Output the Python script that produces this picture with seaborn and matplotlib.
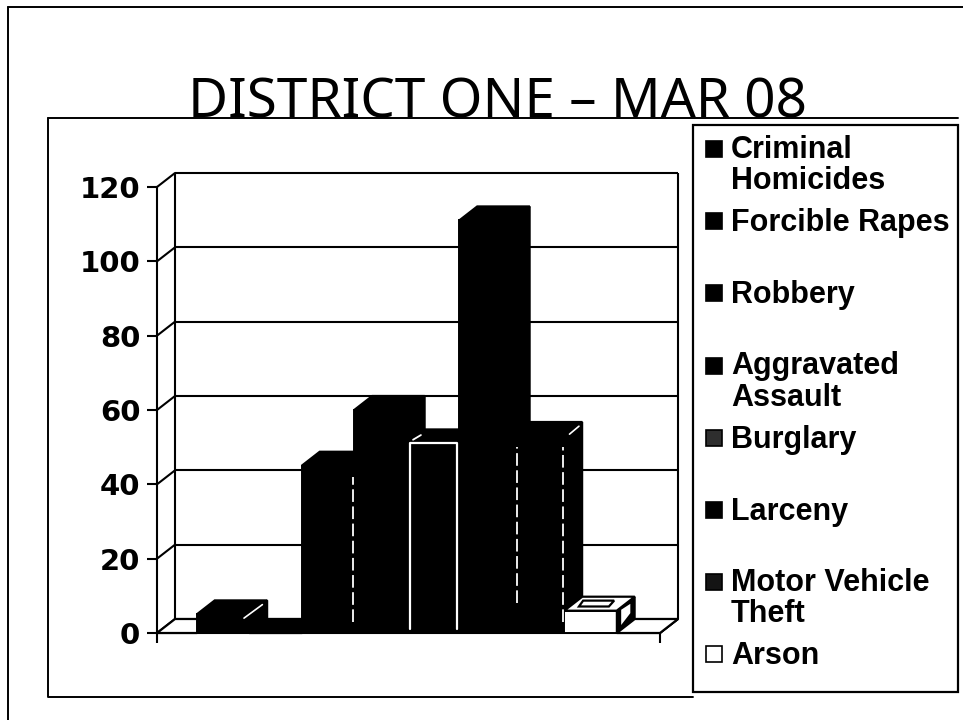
import matplotlib
matplotlib.use("Agg")
import matplotlib.pyplot as plt
from matplotlib.lines import Line2D
from matplotlib.patches import Polygon, Rectangle
import pandas as pd
import seaborn as sns

W, H = 963, 720

# bars as they stand in the picture, left to right
bar_ids = ["1", "2", "3", "4", "5", "6", "7", "8", "9", "10"]
bar_values = [0, 5, 0, 45, 60, 51, 111, 53, 6, 0]
bar_faces = ["white", "black", "black", "black", "black", "black", "black", "black", "white", "white"]

y_ticks = [0, 20, 40, 60, 80, 100, 120]

legend_labels = ["Criminal\nHomicides", "Forcible Rapes", "Robbery", "Aggravated\nAssault",
                 "Burglary", "Larceny", "Motor Vehicle\nTheft", "Arson"]
legend_colors = ["#000000", "#000000", "#000000", "#000000", "#2e2e2e", "#000000", "#141414", "#ffffff"]

# depth of the fake 3d box, in pixels
DEPTH_X, DEPTH_Y = 18, 14


def fx(x):
    return x / W


def fy(y):
    return 1 - y / H


def frame_line(fig, xs, ys, lw=1.4):
    fig.add_artist(Line2D([fx(x) for x in xs], [fy(y) for y in ys], color="black", lw=lw))


def main():
    sns.set_theme(style="white")
    plt.rcParams["font.family"] = ["DejaVu Sans"]

    fig = plt.figure(figsize=(W / 100, H / 100), dpi=100)
    ax = fig.add_axes([fx(157), fy(633), fx(660 - 157), fy(187) - fy(633)])
    ax.patch.set_alpha(0)

    df = pd.DataFrame({"bar": bar_ids, "value": bar_values})
    sns.barplot(data=df, x="bar", y="value", color="black", width=1.0, saturation=1, ax=ax, zorder=3)

    # pitch of the bars is 52.5 px, the first center sits at 170.5 px
    xlo, xhi = (157 - 170.5) / 52.5, (660 - 170.5) / 52.5
    ax.set_xlim(xlo, xhi)
    ax.set_ylim(0, 120)
    dx = DEPTH_X / 52.5
    dy = DEPTH_Y * 120 / (633 - 187)

    ax.set_xlabel("")
    ax.set_ylabel("")
    ax.set_yticks(y_ticks)
    ax.set_xticks([xlo, xhi], ["", ""])
    ax.tick_params(axis="both", direction="out", length=7, width=1.5, color="black", bottom=True, left=True)
    ax.tick_params(axis="y", labelsize=21, pad=5, labelcolor="black")
    for lab in ax.get_yticklabels():
        lab.set_fontweight("bold")
    for side in ["top", "right"]:
        ax.spines[side].set_visible(False)
    for side in ["left", "bottom"]:
        ax.spines[side].set_color("black")
        ax.spines[side].set_linewidth(1.5)

    # walls and gridlines behind the bars
    wall = dict(color="black", lw=1.5, clip_on=False, zorder=1)
    ax.hlines([t + dy for t in y_ticks], xlo + dx, xhi + dx, **wall)
    ax.vlines([xlo + dx, xhi + dx], dy, 120 + dy, **wall)
    for t in y_ticks:
        ax.plot([xlo, xlo + dx], [t, t + dy], **wall)
    ax.plot([xhi, xhi + dx], [0, dy], **wall)

    # top and side faces of each bar come from the bar seaborn drew
    for i, p in enumerate(ax.patches):
        x0 = max(p.get_x(), xlo)
        x1 = min(p.get_x() + p.get_width(), xhi)
        h = p.get_height()
        z = 3 + i
        face = bar_faces[i]
        p.set_zorder(z)
        p.set_clip_on(False)
        p.set_x(x0)
        p.set_width(x1 - x0)
        p.set_facecolor(face)
        p.set_edgecolor("black")
        p.set_linewidth(1.4)
        top = [(x0, h), (x1, h), (x1 + dx, h + dy), (x0 + dx, h + dy)]
        side = [(x1, 0), (x1 + dx, dy), (x1 + dx, h + dy), (x1, h)]
        ax.add_patch(Polygon(side, closed=True, fc="black", ec="black", lw=1.4, zorder=z, clip_on=False))
        ax.add_patch(Polygon(top, closed=True, fc=face, ec="black", lw=1.6, zorder=z, clip_on=False))

        if i == 8:
            # arson has the only light box, inner outlines on top and side
            inner = [(x0 + 0.28, h + dy * 0.3), (x1 - 0.15, h + dy * 0.3),
                     (x1 - 0.05, h + dy * 0.72), (x0 + 0.36, h + dy * 0.72)]
            ax.add_patch(Polygon(inner, closed=True, fc="white", ec="black", lw=1.6, zorder=z, clip_on=False))
            inner = [(x1 + dx * 0.2, h * 0.25), (x1 + dx * 0.8, h * 0.5 + dy * 0.6),
                     (x1 + dx * 0.8, h + dy * 0.6), (x1 + dx * 0.2, h + dy * 0.1)]
            ax.add_patch(Polygon(inner, closed=True, fc="white", ec="black", lw=1.2, zorder=z, clip_on=False))

    # light dashes that show through the scan on the dark bars
    dash = dict(color="white", lw=1.3, ls=(0, (7, 2.5)), zorder=20)
    for i in [3, 7]:
        p = ax.patches[i]
        right = p.get_x() + p.get_width() - 0.03
        ax.plot([right, right], [3, p.get_height() - 3], **dash)
    p = ax.patches[7]
    ax.plot([p.get_x() + 0.1] * 2, [8, p.get_height() - 3], **dash)
    p = ax.patches[5]
    x0, x1, h = p.get_x() + 0.07, p.get_x() + p.get_width() - 0.05, p.get_height()
    ax.plot([x0, x0, x1, x1], [1, h, h, 1], color="white", lw=1.6, zorder=20)
    ax.plot([x0 + 0.05, x0 + 0.2], [h + 1, h + dy * 0.6], color="white", lw=1.3, zorder=20)
    p = ax.patches[1]
    x1, h = p.get_x() + p.get_width(), p.get_height()
    ax.plot([x1 - 0.1, x1 + 0.25], [h - 1, h + dy * 0.7], color="white", lw=1.2, zorder=20)
    p = ax.patches[7]
    x1, h = p.get_x() + p.get_width(), p.get_height()
    ax.plot([x1 + 0.1, x1 + 0.28], [h + 0.5, h + dy * 0.7], color="white", lw=1.2, zorder=20)

    # slide frame and chart frame
    frame_line(fig, [8, 8], [7, 720])
    frame_line(fig, [8, 963], [7, 7])
    frame_line(fig, [48, 48, 693], [118, 697, 697])
    frame_line(fig, [48, 958], [118, 118])

    fig.text(fx(497), fy(118), "DISTRICT ONE \u2013 MAR 08", ha="center", va="baseline",
             fontsize=39.5, family="Noto Sans", color="black")

    # legend box, first lines sit on an even pitch so it is laid out by hand
    fig.add_artist(Rectangle((fx(693), fy(692)), fx(958 - 693), fy(125) - fy(692), transform=fig.transFigure,
                             fc="white", ec="black", lw=1.6))
    for i, (label, color) in enumerate(zip(legend_labels, legend_colors)):
        y = 149 + i * 72.2
        fig.add_artist(Rectangle((fx(706), fy(y + 8)), fx(16), fy(y - 8) - fy(y + 8), transform=fig.transFigure,
                                 fc=color, ec="black", lw=1.2))
        # multi-line text anchors on its last baseline
        extra = 30 * label.count("\n")
        fig.text(fx(731), fy(y + 10 + extra), label, ha="left", va="baseline", fontsize=22, fontweight="bold",
                 family="Liberation Sans", color="black", linespacing=1.05)

    fig.savefig("out.png", dpi=100)


if __name__ == "__main__":
    main()
